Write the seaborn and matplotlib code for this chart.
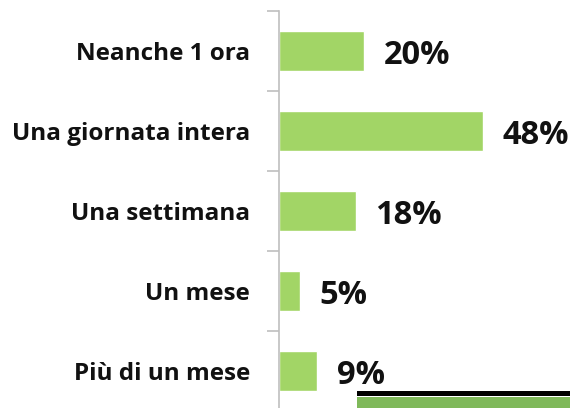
import matplotlib
matplotlib.use("Agg")
import matplotlib.pyplot as plt
import seaborn as sns
import pandas as pd
from matplotlib.patches import Rectangle
from matplotlib.ticker import FixedLocator

categories = ["Neanche 1 ora", "Una giornata intera", "Una settimana", "Un mese", "Più di un mese"]
values = [20, 48, 18, 5, 9]

sns.set_theme(style="white")
plt.rcParams["font.family"] = ["Open Sans", "DejaVu Sans"]

df = pd.DataFrame({"categoria": categories, "percentuale": values})

W, H, DPI = 5.7, 4.08, 100
fig = plt.figure(figsize=(W, H), dpi=DPI)
fig.patch.set_facecolor("white")

left_px, top_px, band_px = 279, 11, 80
px_per_unit = 4.25
ax = fig.add_axes([left_px / 570, 1 - (top_px + 5 * band_px) / 408,
                   (570 - left_px) / 570, 5 * band_px / 408])

sns.barplot(data=df, y="categoria", x="percentuale", orient="h",
            color="#a2d566", saturation=1, width=0.5, ax=ax)

ax.set_xlim(0, (570 - left_px) / px_per_unit)
ax.set_ylim(4.5, -0.5)
ax.set_xlabel("")
ax.set_ylabel("")
ax.set_xticks([])

for s in ["top", "right", "bottom"]:
    ax.spines[s].set_visible(False)
ax.spines["left"].set_color("#bfbfbf")
ax.spines["left"].set_linewidth(1.2)

ax.yaxis.set_minor_locator(FixedLocator([i - 0.5 for i in range(6)]))
ax.tick_params(axis="y", which="minor", length=9, width=1.2, color="#bfbfbf", left=True)
ax.tick_params(axis="y", which="major", length=0, pad=21)
for lbl in ax.get_yticklabels():
    lbl.set_fontsize(17.5)
    lbl.set_fontweight("bold")
    lbl.set_color("#111111")
    lbl.set_y(lbl.get_position()[1])

for i, v in enumerate(values):
    ax.annotate(f"{v}%", xy=(v, i), xytext=(14, -3), textcoords="offset points",
                ha="left", va="center", fontsize=23.5, fontweight="bold", color="#111111")

# slide decoration along the bottom edge
fig.add_artist(Rectangle((357 / 570, 0), 1 - 357 / 570, 11 / 408,
                         transform=fig.transFigure, facecolor="#7fb95a", edgecolor="none"))
fig.add_artist(Rectangle((357 / 570, 12 / 408), 1 - 357 / 570, 5 / 408,
                         transform=fig.transFigure, facecolor="black", edgecolor="none"))

fig.savefig("out.png", dpi=DPI, facecolor="white")
